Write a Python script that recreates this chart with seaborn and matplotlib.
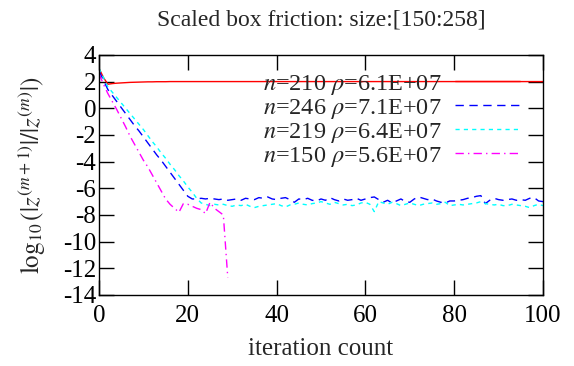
import matplotlib
matplotlib.use("Agg")
import matplotlib.pyplot as plt
import numpy as np
import pandas as pd
import seaborn as sns

# residual history per run (log10 of relative update), one value per iteration
red_vals = [3.0, 2.3, 1.8, 1.85, 1.88, 1.9, 1.92, 1.94, 1.95, 1.96,
            1.97, 1.98, 1.98, 1.99, 1.99, 1.99, 2.0, 2.0, 2.0, 2.0,
            2.0, 2.0, 2.0, 2.0, 2.0, 2.0, 2.0, 2.0, 2.0, 2.0,
            2.0, 2.0, 2.0, 2.0, 2.0, 2.0, 2.0, 2.0, 2.0, 2.0,
            2.0, 2.0, 2.0, 2.0, 2.0, 2.0, 2.0, 2.0, 2.0, 2.0,
            2.0, 2.0, 2.0, 2.0, 2.0, 2.0, 2.0, 2.0, 2.0, 2.0,
            2.0, 2.0, 2.0, 2.0, 2.0, 2.0, 2.0, 2.0, 2.0, 2.0,
            2.0, 2.0, 2.0, 2.0, 2.0, 2.0, 2.0, 2.0, 2.0, 2.0,
            2.0, 2.0, 2.0, 2.0, 2.0, 2.0, 2.0, 2.0, 2.0, 2.0,
            2.0, 2.0, 2.0, 2.0, 2.0, 2.0, 2.0, 2.0, 2.0, 2.0,
            2.0]

blue_vals = [2.8, 2.1, 1.4, 0.95, 0.5, 0.05, -0.4, -0.85, -1.3, -1.7,
             -2.15, -2.6, -3.05, -3.5, -3.9, -4.35, -4.8, -5.25, -5.7, -6.15,
             -6.6, -6.8, -6.8, -6.75, -6.8, -6.75, -6.8, -6.85, -6.8, -6.9,
             -6.85, -6.8, -6.9, -6.75, -6.8, -6.85, -6.7, -6.75, -6.65, -6.8,
             -6.85, -6.75, -6.7, -6.85, -7.05, -6.8, -6.85, -6.75, -6.9, -6.95,
             -6.8, -6.9, -6.7, -6.85, -6.95, -6.8, -6.9, -6.85, -6.75, -6.9,
             -6.8, -6.7, -6.65, -6.85, -7.05, -6.9, -7.1, -6.95, -6.8, -7.0,
             -7.05, -6.8, -6.65, -6.75, -6.85, -6.8, -6.95, -7.05, -7.1, -6.95,
             -6.95, -6.9, -6.85, -6.75, -6.7, -6.6, -6.55, -7.15, -6.9, -6.75,
             -6.85, -6.9, -6.85, -6.8, -6.9, -6.85, -6.9, -6.75, -6.7, -6.95,
             -7.0]

cyan_vals = [3.0, 2.3, 1.6, 1.2, 0.8, 0.4, 0.0, -0.4, -0.8, -1.2,
             -1.6, -2.05, -2.5, -2.9, -3.35, -3.75, -4.2, -4.6, -5.05, -5.45,
             -5.9, -6.3, -6.75, -7.1, -7.2, -7.3, -7.2, -7.25, -7.2, -7.3,
             -7.35, -7.25, -7.3, -7.2, -7.35, -7.45, -7.35, -7.3, -7.25, -7.2,
             -7.15, -7.3, -7.4, -7.25, -7.2, -7.1, -7.2, -7.25, -7.15, -7.1,
             -7.0, -7.1, -7.2, -7.05, -7.15, -7.25, -7.2, -7.3, -7.25, -7.1,
             -7.05, -7.2, -7.75, -7.0, -7.1, -7.2, -7.05, -7.15, -7.3, -7.2,
             -7.1, -7.2, -7.3, -7.2, -7.15, -7.1, -7.2, -7.15, -7.05, -7.3,
             -7.25, -7.2, -7.25, -7.2, -7.15, -7.1, -7.0, -7.15, -7.2, -7.25,
             -7.2, -7.3, -7.3, -7.2, -7.25, -7.3, -7.35, -7.45, -7.3, -7.2,
             -7.3]

magenta_vals = [2.6, 1.8, 1.1, 0.5, -0.1, -0.75, -1.4, -2.1, -2.7, -3.3,
                -3.9, -4.4, -5.0, -5.6, -6.2, -6.8, -7.2, -7.5, -7.8, -7.15,
                -7.2, -7.35, -7.5, -7.6, -7.9, -7.05, -7.5, -7.75, -8.0, -12.7]

labels = [r"$n$=210 $\rho$=6.1E+07", r"$n$=246 $\rho$=7.1E+07",
          r"$n$=219 $\rho$=6.4E+07", r"$n$=150 $\rho$=5.6E+07"]
colors = ["#ff0000", "#0000ff", "#00ffff", "#ff00ff"]
dashes = [(None, None), (6, 4), (3, 3), (6, 3, 1, 3)]

sns.set_style("ticks")
plt.rcParams["font.family"] = ["Liberation Serif", "DejaVu Serif"]
plt.rcParams["mathtext.fontset"] = "stix"
plt.rcParams["axes.unicode_minus"] = False

fig = plt.figure(figsize=(5.74, 3.66), dpi=100)
ax = fig.add_axes([0.1725, 0.194, 0.7735, 0.656])

for vals, lab, col, dsh in zip([red_vals, blue_vals, cyan_vals, magenta_vals],
                               labels, colors, dashes):
    df = pd.DataFrame({"it": np.arange(len(vals)), "v": vals})
    sns.lineplot(data=df, x="it", y="v", ax=ax, color=col, lw=1.0, label=lab)
    if dsh[0] is not None:
        ax.lines[-1].set_dashes(dsh)

ax.set_xlim(0, 100)
ax.set_ylim(-14, 4)
ax.set_xticks(np.arange(0, 101, 20))
ax.set_yticks(np.arange(-14, 5, 2))
ax.tick_params(direction="in", length=11, width=1, top=True, right=True,
               labelsize=18, colors="black")
ax.tick_params(axis="y", pad=2)
ax.tick_params(axis="x", pad=7)
for s in ax.spines.values():
    s.set_linewidth(1)
    s.set_color("black")

ax.set_title("Scaled box friction: size:[150:258]", fontsize=17, pad=21)
ax.set_xlabel("iteration count", fontsize=18, labelpad=8)
ax.set_ylabel(r"$\log_{10}\left(|z^{(m+1)}|/|z^{(m)}|\right)$", fontsize=18, labelpad=11)

ax.legend(loc="upper right", bbox_to_anchor=(0.949, 0.925), frameon=False,
          markerfirst=False, fontsize=17.5, handlelength=2.7, handletextpad=0.55,
          labelspacing=0.0, borderaxespad=0, borderpad=0)

fig.savefig("out.png", dpi=100)
